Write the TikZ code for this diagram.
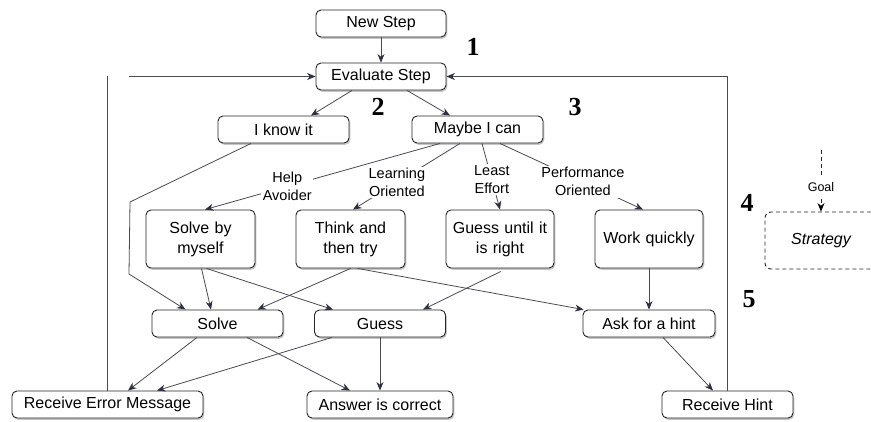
\documentclass[tikz,border=0pt]{standalone}
\usepackage{fontspec}
\setmainfont{Liberation Sans}
\newfontfamily\numfont{Liberation Serif}
\usetikzlibrary{arrows.meta,shadows}
\definecolor{linegray}{HTML}{4A4A52}
\definecolor{tipdark}{HTML}{2E3040}
\begin{document}
\begin{tikzpicture}[x=1pt,y=-1pt,
  box/.style={draw=black!85, line width=0.9pt, rounded corners=5pt, fill=white,
    drop shadow={opacity=0.45, shadow xshift=1.3pt, shadow yshift=-1.8pt},
    font=\fontsize{16}{20}\selectfont, inner sep=0pt, align=center, minimum height=27pt},
  tall/.style={box, minimum width=109pt, minimum height=58pt, text width=104pt},
  conn/.style={draw=linegray, line width=0.8pt},
  arr/.style={conn, -{Stealth[length=8.5pt,width=7pt,color=tipdark]}},
  lbl/.style={fill=white, inner sep=1.5pt, align=center, font=\fontsize{14.5}{18}\selectfont},
  num/.style={font=\numfont\bfseries\fontsize{26}{26}\selectfont, inner sep=0pt}]
\useasboundingbox (0,0) rectangle (871,421);

% nodes
\node[box, minimum width=130pt] (new) at (381,23.5) {New Step};
\node[box, minimum width=130pt] (ev) at (381,76.5) {Evaluate Step};
\node[box, minimum width=131pt] (know) at (283.5,129.5) {I know it};
\node[box, minimum width=131pt] (maybe) at (477.5,129.5) {Maybe I can};
\node[tall] (sbm) at (200.5,239) {Solve by\\myself};
\node[tall] (think) at (350.5,239) {Think and\\then try};
\node[tall, minimum width=108pt] (gu) at (500,239) {Guess until it\\is right};
\node[tall, minimum width=108pt] (quick) at (649,239) {Work quickly};
\node[box, minimum width=131pt] (solve) at (217.5,323.5) {Solve};
\node[box, minimum width=131pt] (guess) at (380,323.5) {Guess};
\node[box, minimum width=132pt] (ask) at (649,323.5) {Ask for a hint};
\node[box, minimum width=191pt] (rem) at (107.5,404.5) {Receive Error Message};
\node[box, minimum width=146pt] (ans) at (380,404.5) {Answer is correct};
\node[box, minimum width=131pt] (rh) at (727.5,404.5) {Receive Hint};

% numbers
\node[num] (n1) at (473,47) {1};
\node[num] (n2) at (378,107) {2};
\node[num] (n3) at (575,107) {3};
\node[num] (n4) at (747,203) {4};
\node[num] (n5) at (749,299) {5};

% strategy legend
\node[draw=black!85, dash pattern=on 4pt off 3pt, rounded corners=6pt, line width=0.9pt,
  minimum width=112pt, minimum height=57pt, inner sep=0pt,
  font=\itshape\fontsize{16}{20}\selectfont] (strat) at (821,240.5) {Strategy};
\coordinate (gtop) at (821,150);
\draw[conn, draw=black!85, dash pattern=on 4pt off 3pt, -{Stealth[length=8.5pt,width=7pt,color=black]}] (gtop) --
  node[lbl, pos=0.6, inner sep=4pt, font=\fontsize{12.5}{14}\selectfont] (goal) {Goal} (strat.north);

% connectors
\draw[arr] (new) -- (ev);
\draw[arr] ([xshift=-29pt]ev.south) -- ([xshift=27.5pt]know.north);
\draw[arr] ([xshift=26pt]ev.south) -- ([xshift=-27.5pt]maybe.north);

% loops back to Evaluate Step
\coordinate (lt) at (107.5,76);
\coordinate (lh) at (129,76.5);
\draw[conn] (rem.north) -- (lt);
\draw[arr] (lh) -- (ev.west);
\draw[arr] (rh.north) -- (rh.north |- ev.east) -- (ev.east);

% I know it -> Solve
\coordinate (k1) at (130,202);
\coordinate (k2) at (129,274);
\draw[arr] ([xshift=-32.5pt]know.south) -- (k1) -- (k2) -- ([xshift=-32pt]solve.north);

% Maybe I can -> strategies
\draw[arr] ([xshift=-37.5pt]maybe.south) -- node[lbl, pos=0.65] (lha) {Help\\Avoider} ([xshift=4.5pt]sbm.north);
\draw[arr] ([xshift=-17.5pt]maybe.south) -- node[lbl, pos=0.59] (llo) {Learning\\Oriented} ([xshift=2.5pt]think.north);
\draw[arr] ([xshift=4.5pt]maybe.south) -- node[lbl, pos=0.55] (lle) {Least\\Effort} (gu.north);
\draw[arr] ([xshift=22.5pt]maybe.south) -- node[lbl, pos=0.58] (lpo) {Performance\\Oriented} ([xshift=-6pt]quick.north);

% strategies -> actions
\draw[arr] ([xshift=1pt]sbm.south) -- ([xshift=-6.5pt]solve.north);
\draw[arr] ([xshift=6pt]sbm.south) -- ([xshift=-47pt]guess.north);
\draw[arr] (think.south) -- ([xshift=40pt]solve.north);
\draw[arr] ([xshift=7pt]think.south) -- ([xshift=1pt]ask.north west);
\draw[arr, shorten <=7pt] ([xshift=7pt]gu.south) -- ([xshift=43pt]guess.north);
\draw[arr] (quick.south) -- (ask.north);

% actions -> outcomes
\draw[arr] ([xshift=14pt]ask.south) -- ([xshift=-14.5pt]rh.north);
\draw[arr] ([xshift=-20.5pt]solve.south) -- ([xshift=20.5pt]rem.north);
\draw[arr] ([xshift=29.5pt]solve.south) -- ([xshift=-30pt]ans.north);
\draw[arr] ([xshift=-48pt]guess.south) -- ([xshift=49.5pt]rem.north);
\draw[arr] (guess.south) -- (ans.north);
\end{tikzpicture}
\end{document}
